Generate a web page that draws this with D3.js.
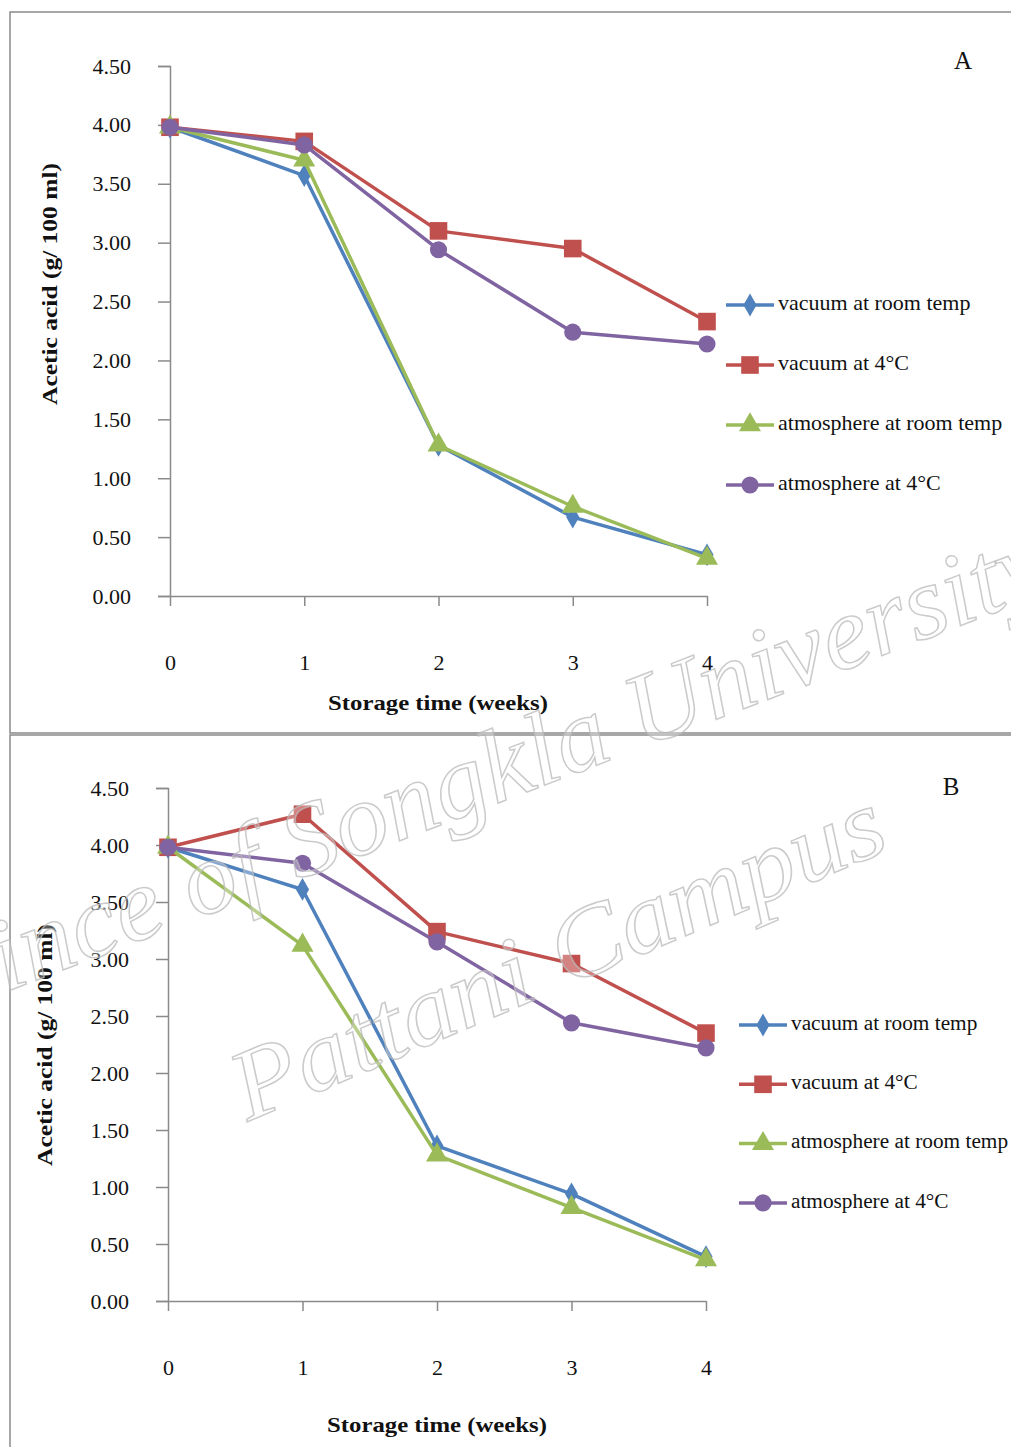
<!DOCTYPE html>
<html>
<head>
<meta charset="utf-8">
<script src="https://cdn.jsdelivr.net/npm/d3@7"></script>
<style>
  html, body { margin: 0; padding: 0; background: #fff; }
  svg { display: block; }
  text { font-family: "Liberation Serif", "Times New Roman", serif; }
</style>
</head>
<body>
<svg id="chart" width="1011" height="1447"></svg>
<script>
// Storage time (weeks)
const weeks = [0, 1, 2, 3, 4];
const yTicks = [0, 0.5, 1, 1.5, 2, 2.5, 3, 3.5, 4, 4.5];

const seriesNames = ["vacuum at room temp", "vacuum at 4°C", "atmosphere at room temp", "atmosphere at 4°C"];
const seriesColors = ["#4F81BD", "#C0504D", "#9BBB59", "#8064A2"];
const seriesMarkers = ["diamond", "square", "triangle", "circle"];

// Panel A: acetic acid (g/100 ml)
const vacuumRoomA = [3.98, 3.57, 1.28, 0.67, 0.35];
const vacuum4A    = [3.98, 3.86, 3.10, 2.95, 2.33];
const atmosRoomA  = [3.98, 3.70, 1.28, 0.76, 0.32];
const atmos4A     = [3.98, 3.83, 2.94, 2.24, 2.14];

// Panel B: acetic acid (g/100 ml)
const vacuumRoomB = [3.98, 3.61, 1.36, 0.94, 0.39];
const vacuum4B    = [3.98, 4.27, 3.24, 2.96, 2.35];
const atmosRoomB  = [3.98, 3.12, 1.28, 0.82, 0.36];
const atmos4B     = [3.98, 3.84, 3.15, 2.44, 2.22];

const svg = d3.select("#chart");

function markerPath(type) {
  switch (type) {
    case "diamond":  return d3.symbol().type(d3.symbolDiamond).size(150)();
    case "square":   return d3.symbol().type(d3.symbolSquare).size(310)();
    case "triangle": return d3.symbol().type(d3.symbolTriangle).size(210)();
    default:         return d3.symbol().type(d3.symbolCircle).size(230)();
  }
}

function drawPanel(cfg) {
  const g = svg.append("g");

  // frame
  g.append("rect")
    .attr("x", cfg.frame[0]).attr("y", cfg.frame[1])
    .attr("width", cfg.frame[2]).attr("height", cfg.frame[3])
    .attr("fill", "none").attr("stroke", "#8a8a8a").attr("stroke-width", 1.5);

  const x = d3.scaleLinear().domain([0, 4]).range(cfg.xRange);
  const y = d3.scaleLinear().domain([0, 4.5]).range(cfg.yRange);

  // y axis
  const yAxis = d3.axisLeft(y).tickValues(yTicks).tickFormat(d3.format(".2f"))
    .tickSize(12).tickPadding(27);
  const gy = g.append("g").attr("transform", `translate(${cfg.xRange[0]},0)`).call(yAxis);
  gy.select(".domain").attr("stroke", "#8a8a8a").attr("stroke-width", 1.5);
  gy.selectAll(".tick line").attr("stroke", "#8a8a8a").attr("stroke-width", 1.5);
  gy.selectAll(".tick text").attr("font-size", 22).attr("fill", "#111")
    .attr("font-family", "Liberation Serif, serif");

  // x axis
  const xAxis = d3.axisBottom(x).tickValues(weeks).tickFormat(d3.format("d"))
    .tickSize(10).tickSizeOuter(0).tickPadding(48);
  const gx = g.append("g").attr("transform", `translate(0,${cfg.yRange[0]})`).call(xAxis);
  gx.select(".domain").attr("stroke", "#8a8a8a").attr("stroke-width", 1.5);
  gx.selectAll(".tick line").attr("stroke", "#8a8a8a").attr("stroke-width", 1.5);
  gx.selectAll(".tick text").attr("font-size", 22).attr("fill", "#111")
    .attr("font-family", "Liberation Serif, serif");

  // axis titles
  g.append("text")
    .attr("transform", `translate(${cfg.yTitle[0]},${cfg.yTitle[1]}) rotate(-90)`)
    .attr("text-anchor", "middle").attr("dominant-baseline", "middle")
    .attr("font-size", 22).attr("font-weight", "bold").attr("fill", "#111")
    .attr("textLength", 242).attr("lengthAdjust", "spacingAndGlyphs")
    .text("Acetic acid (g/ 100 ml)");
  g.append("text")
    .attr("x", cfg.xTitle[0]).attr("y", cfg.xTitle[1])
    .attr("text-anchor", "middle").attr("dominant-baseline", "middle")
    .attr("font-size", 22).attr("font-weight", "bold").attr("fill", "#111")
    .attr("textLength", 220).attr("lengthAdjust", "spacingAndGlyphs")
    .text("Storage time (weeks)");

  // panel letter
  g.append("text")
    .attr("x", cfg.letterPos[0]).attr("y", cfg.letterPos[1])
    .attr("text-anchor", "middle").attr("dominant-baseline", "middle")
    .attr("font-size", 25).attr("fill", "#111").text(cfg.letter);

  // series
  const line = d3.line().x((d, i) => x(weeks[i])).y(d => y(d));
  cfg.series.forEach((vals, s) => {
    g.append("path").datum(vals).attr("d", line)
      .attr("fill", "none").attr("stroke", seriesColors[s]).attr("stroke-width", 3.5)
      .attr("stroke-linejoin", "round");
    g.selectAll(null).data(vals).enter().append("path")
      .attr("d", markerPath(seriesMarkers[s]))
      .attr("transform", (d, i) => `translate(${x(weeks[i])},${y(d)})`)
      .attr("fill", seriesColors[s]);
  });

  // legend
  seriesNames.forEach((name, s) => {
    const ly = cfg.legend[1] + s * cfg.legendStep;
    const lx = cfg.legend[0];
    g.append("line").attr("x1", lx).attr("x2", lx + 48).attr("y1", ly).attr("y2", ly)
      .attr("stroke", seriesColors[s]).attr("stroke-width", 3.5);
    g.append("path").attr("d", markerPath(seriesMarkers[s]))
      .attr("transform", `translate(${lx + 24},${ly})`).attr("fill", seriesColors[s]);
    g.append("text").attr("x", lx + 52).attr("y", ly)
      .attr("dominant-baseline", "middle").attr("font-size", cfg.legendFont).attr("fill", "#111")
      .text(name);
  });
}

drawPanel({
  frame: [10, 12, 1030, 721],
  xRange: [170, 707], yRange: [596, 66],
  yTitle: [52, 284], xTitle: [438, 705],
  letter: "A", letterPos: [963, 63],
  legend: [726, 305], legendStep: 60, legendFont: 22,
  series: [vacuumRoomA, vacuum4A, atmosRoomA, atmos4A]
});

drawPanel({
  frame: [10, 735, 1030, 740],
  xRange: [168, 706], yRange: [1301, 788],
  yTitle: [47, 1045], xTitle: [437, 1427],
  letter: "B", letterPos: [951, 789],
  legend: [739, 1025], legendStep: 59.3, legendFont: 21.3,
  series: [vacuumRoomB, vacuum4B, atmosRoomB, atmos4B]
});

// institutional watermark
const wm = svg.append("g").attr("pointer-events", "none");
wm.append("text")
  .attr("transform", "translate(480,810) rotate(-21)")
  .attr("text-anchor", "middle")
  .attr("font-size", 104).attr("font-style", "italic")
  .attr("textLength", 1230).attr("lengthAdjust", "spacingAndGlyphs")
  .attr("fill", "rgba(255,255,255,0.3)").attr("stroke", "rgba(185,185,185,0.75)").attr("stroke-width", 1.5)
  .text("Prince of Songkla University");
wm.append("text")
  .attr("transform", "translate(570,985) rotate(-23)")
  .attr("text-anchor", "middle")
  .attr("font-size", 100).attr("font-style", "italic")
  .attr("textLength", 700).attr("lengthAdjust", "spacingAndGlyphs")
  .attr("fill", "rgba(255,255,255,0.3)").attr("stroke", "rgba(185,185,185,0.75)").attr("stroke-width", 1.5)
  .text("Pattani Campus");
</script>
</body>
</html>
